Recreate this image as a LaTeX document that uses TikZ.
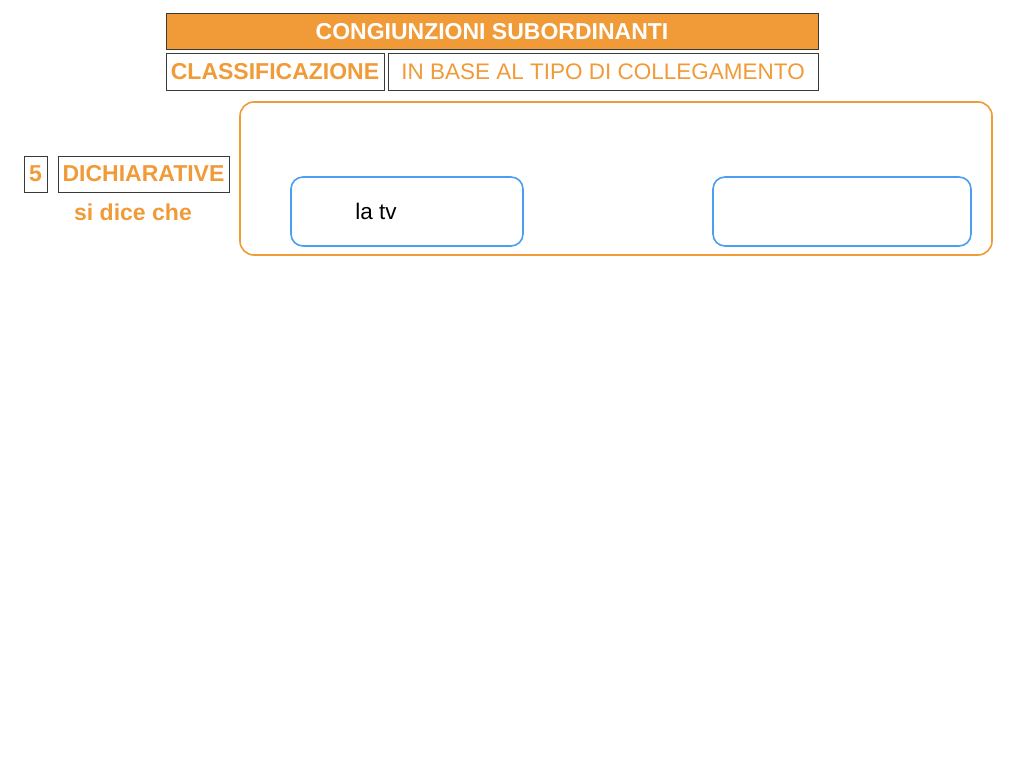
\documentclass[tikz,border=0pt]{standalone}
\usepackage{fontspec}
\setmainfont{Liberation Sans}
\definecolor{orng}{HTML}{F09B38}
\definecolor{blu}{HTML}{4C9EF2}
\definecolor{frm}{HTML}{3A3A3A}
\begin{document}
\begin{tikzpicture}[x=1pt,y=-1pt,
  frame/.style={draw=frm,line width=1pt,inner sep=0pt},
  otext/.style={text=orng},
  bf/.style={font=\bfseries\fontsize{23}{26}\selectfont},
  rg/.style={font=\fontsize{22.5}{26}\selectfont},
  bigbox/.style={draw=orng,line width=1.6pt,rounded corners=14pt},
  bluebox/.style={draw=blu,line width=1.6pt,rounded corners=12pt}]
\useasboundingbox (0,0) rectangle (1024,768);
\fill[white] (0,0) rectangle (1024,768);
% title
\draw[frame,fill=orng] (166,14) rectangle (818,50);
\node[text=white,bf] (title) at (492,32) {CONGIUNZIONI SUBORDINANTI};
\draw[frame] (166,54) rectangle (384,90);
\node[otext,bf] (cls) at (275,72) {CLASSIFICAZIONE};
\draw[frame] (388,54) rectangle (818,90);
\node[otext,rg] (base) at (603,72) {IN BASE AL TIPO DI COLLEGAMENTO};
% big box
\draw[bigbox] (240,102) rectangle (992,255);
% left labels
\draw[frame] (24,156) rectangle (47,192);
\node[otext,bf] (five) at (35.5,174) {5};
\draw[frame] (58,156) rectangle (229,192);
\node[otext,bf] (dich) at (143.5,174) {DICHIARATIVE};
\node[otext,bf] (sdc) at (133,212) {si dice che};
% blue boxes
\draw[bluebox] (291,177) rectangle (523,246);
\node[rg] (latv) at (376,211) {la tv};
\draw[bluebox] (713,177) rectangle (971,246);
\end{tikzpicture}
\end{document}
